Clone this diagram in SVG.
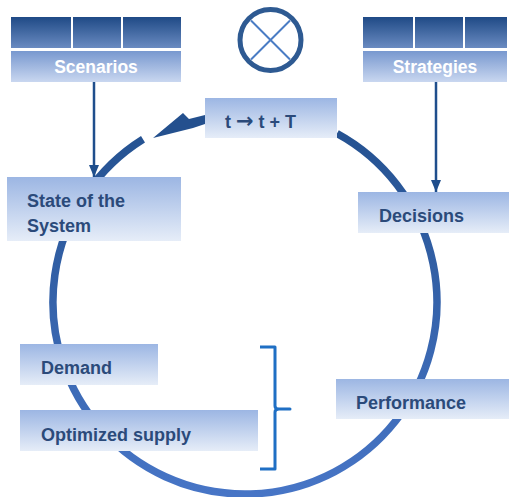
<svg xmlns="http://www.w3.org/2000/svg" width="509" height="497" viewBox="0 0 509 497">
  <defs>
    <linearGradient id="gLabel" x1="0" y1="0" x2="0" y2="1">
      <stop offset="0" stop-color="#9cb6e3"/>
      <stop offset="1" stop-color="#e6edf8"/>
    </linearGradient>
    <linearGradient id="gCell" x1="0" y1="0" x2="0" y2="1">
      <stop offset="0" stop-color="#1f4a86"/>
      <stop offset="1" stop-color="#6a8bc1"/>
    </linearGradient>
    <linearGradient id="gTitle" x1="0" y1="0" x2="0" y2="1">
      <stop offset="0" stop-color="#7898cf"/>
      <stop offset="1" stop-color="#c9d7f0"/>
    </linearGradient>
    <linearGradient id="gRing" gradientUnits="userSpaceOnUse" x1="0" y1="110" x2="0" y2="495">
      <stop offset="0" stop-color="#23508e"/>
      <stop offset="1" stop-color="#4775c6"/>
    </linearGradient>
    <!-- arrowhead drawn along +x so orient="auto" follows the line -->
    <marker id="arrowDown" viewBox="0 0 12 10" refX="12" refY="5" markerWidth="12" markerHeight="10" markerUnits="userSpaceOnUse" orient="auto">
      <path d="M0,0 L12,5 L0,10 Z" fill="#1f4e8c"/>
    </marker>
    <style>
      .label { fill: url(#gLabel); }
      .cell { fill: url(#gCell); }
      .title { fill: url(#gTitle); }
      .txt { font-family: "Liberation Sans", Arial, sans-serif; font-weight: bold; font-size: 18px; fill: #2b4a7a; }
      .ttl { font-family: "Liberation Sans", Arial, sans-serif; font-weight: bold; font-size: 17.5px; fill: #ffffff; text-anchor: middle; }
      .feed { stroke: #1f4e8c; stroke-width: 2.5; fill: none; }
    </style>
  </defs>

  <!-- the cycle ring and its arrow -->
  <g id="connectors">
    <path d="M143,139.3 A192,192 0 1 0 337,133.5" fill="none" stroke="url(#gRing)" stroke-width="7.5"/>
    <polygon points="153,138 183,113 189,119 205,115 205,124 193,128" fill="#24508e"/>
    <line class="feed" x1="94" y1="82" x2="94" y2="177" marker-end="url(#arrowDown)"/>
    <line class="feed" x1="436" y1="82" x2="436" y2="192" marker-end="url(#arrowDown)"/>
    <path d="M260,347 H275 V406 Q275,409 279,409 H290 H279 Q275,409 275,412 V469 H260" fill="none" stroke="#1f6fc4" stroke-width="3" stroke-linejoin="round"/>
  </g>

  <!-- header table: Scenarios -->
  <g id="scenarios">
    <rect class="cell" x="11" y="17" width="60" height="31"/>
    <rect class="cell" x="73" y="17" width="48" height="31"/>
    <rect class="cell" x="123" y="17" width="58" height="31"/>
    <rect class="title" x="11" y="51" width="170" height="31"/>
    <text class="ttl" x="96" y="73">Scenarios</text>
  </g>

  <!-- header table: Strategies -->
  <g id="strategies">
    <rect class="cell" x="363" y="17" width="50" height="31"/>
    <rect class="cell" x="415" y="17" width="48" height="31"/>
    <rect class="cell" x="465" y="17" width="42" height="31"/>
    <rect class="title" x="363" y="51" width="144" height="31"/>
    <text class="ttl" x="435" y="73">Strategies</text>
  </g>

  <!-- combination symbol -->
  <g id="combine">
    <circle cx="270.5" cy="40" r="30.5" fill="none" stroke="#2e5a92" stroke-width="5"/>
    <line x1="251" y1="20.5" x2="290" y2="59.5" stroke="#4a7cc4" stroke-width="2"/>
    <line x1="290" y1="20.5" x2="251" y2="59.5" stroke="#4a7cc4" stroke-width="2"/>
  </g>

  <g id="timestep">
    <rect class="label" x="205" y="98" width="132" height="40"/>
    <text class="txt" x="225" y="128">t <tspan font-family="'DejaVu Sans', sans-serif" font-size="21">→</tspan> t + T</text>
  </g>

  <g id="state">
    <rect class="label" x="7" y="177" width="174" height="64"/>
    <text class="txt" x="27" y="207">State of the</text>
    <text class="txt" x="27" y="232">System</text>
  </g>

  <g id="decisions">
    <rect class="label" x="358" y="192" width="151" height="41"/>
    <text class="txt" x="379" y="222">Decisions</text>
  </g>

  <g id="demand">
    <rect class="label" x="20" y="344" width="138" height="41"/>
    <text class="txt" x="41" y="374">Demand</text>
  </g>

  <g id="supply">
    <rect class="label" x="20" y="410" width="238" height="41"/>
    <text class="txt" x="41" y="441">Optimized supply</text>
  </g>

  <g id="performance">
    <rect class="label" x="336" y="379" width="173" height="40"/>
    <text class="txt" x="356" y="409">Performance</text>
  </g>
</svg>
